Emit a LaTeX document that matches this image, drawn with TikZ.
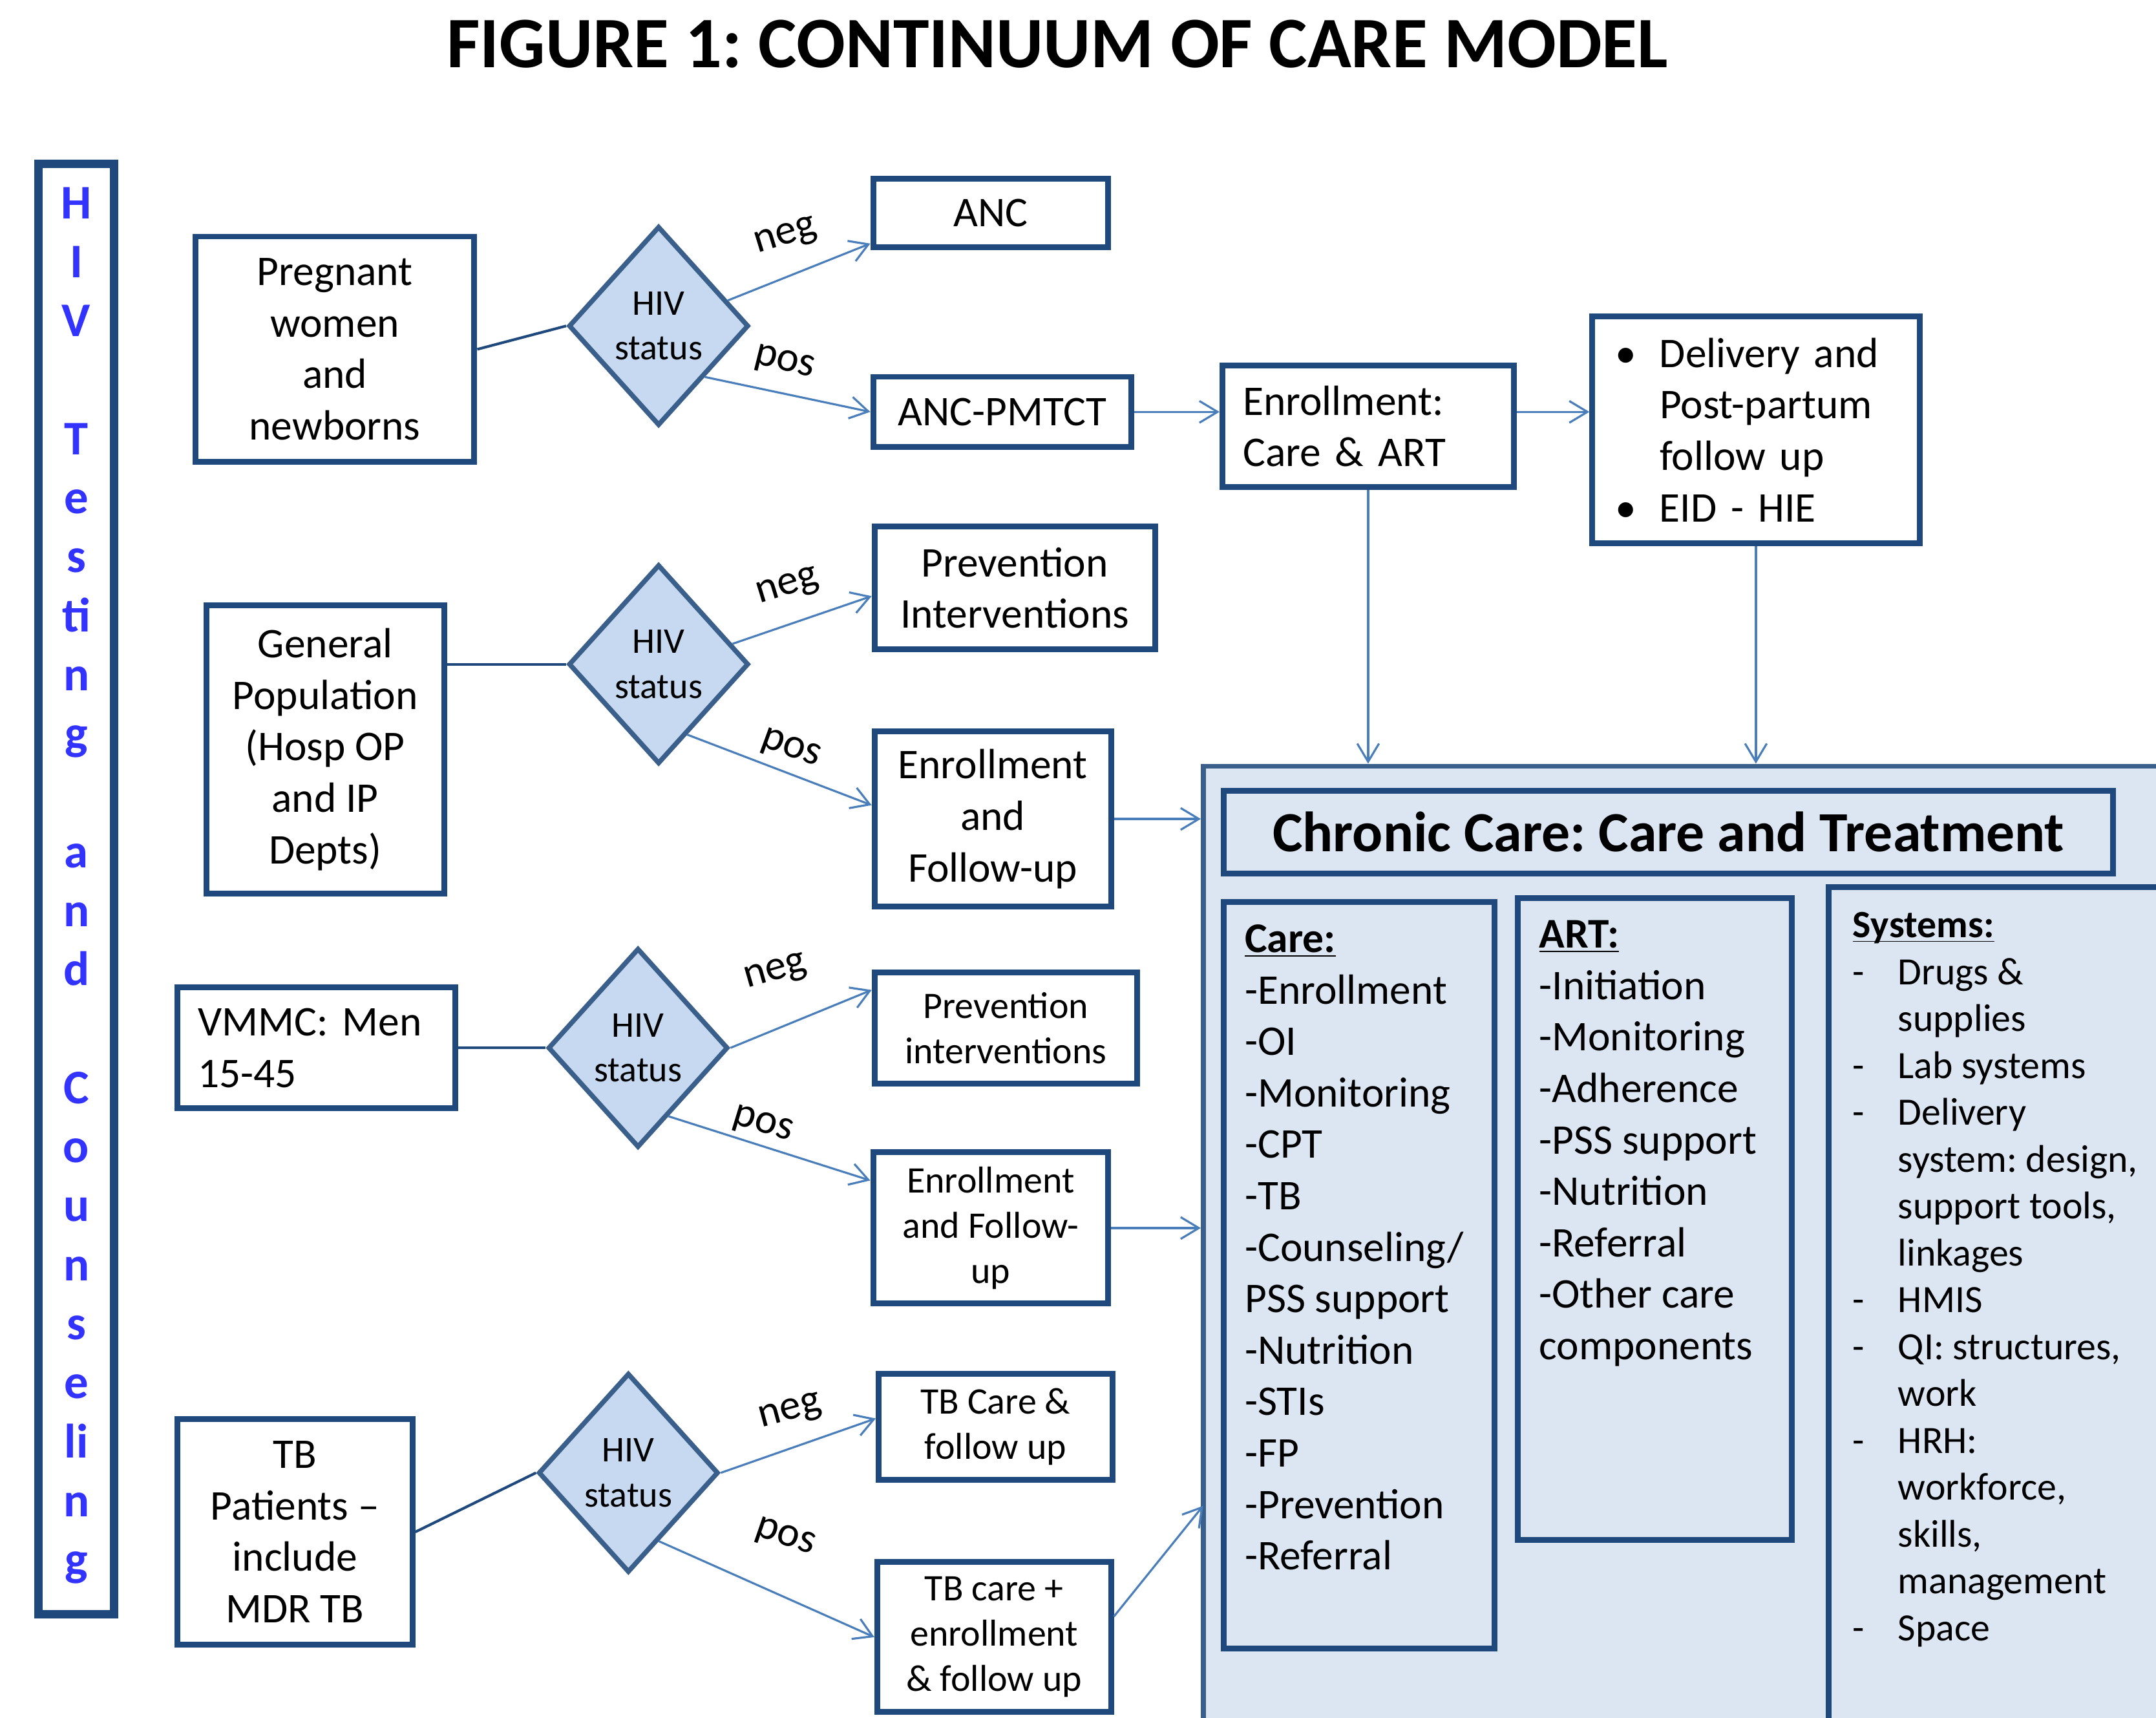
\documentclass[tikz,border=0pt]{standalone}
\usepackage{fontspec}
\setmainfont{Carlito}
\usetikzlibrary{shapes.geometric,arrows.meta,calc}
\definecolor{boxBlue}{HTML}{1F497D}
\definecolor{diaLine}{HTML}{3A5F8B}
\definecolor{diaFill}{HTML}{C6D9F1}
\definecolor{ccFill}{HTML}{DCE6F2}
\definecolor{arrowBlue}{HTML}{4A7EBB}
\definecolor{letterBlue}{HTML}{3333FF}
\newcommand{\dashitem}{\makebox[0.66cm][l]{-}}
\newcommand{\contline}{\hspace*{0.66cm}}
\newcommand{\bulitem}{\makebox[0.58cm][l]{\hspace*{-0.06cm}\textbullet}}
\newcommand{\bulcont}{\hspace*{0.58cm}}
\frenchspacing

\begin{document}
\begin{tikzpicture}[
    x=0.02cm, y=-0.02cm,
    font=\fontsize{17.5}{21.3}\selectfont,
    box/.style={draw=boxBlue, line width=2.4pt, fill=white, inner sep=0pt, align=center},
    lbox/.style={box, align=left, inner xsep=0.3cm},
    small/.style={font=\fontsize{15.5}{18.7}\selectfont},
    decision/.style={draw=diaLine, line width=2pt, fill=diaFill, diamond, inner sep=0pt,
        minimum width=2.62cm, minimum height=2.9cm, align=center, font=\fontsize{15}{18.7}\selectfont},
    link/.style={draw=boxBlue, line width=1.1pt},
    arrow/.style={draw=arrowBlue, line width=0.85pt, -{Straight Barb[length=7.5pt,width=9pt]}},
    lbl/.style={inner sep=0pt},
    listtxt/.style={anchor=north west, align=left, inner sep=0pt, font=\fontsize{17.5}{21.3}\selectfont}
]
    \useasboundingbox (0,0) rectangle (1568,1249);
    \fill[white] (0,0) rectangle (1568,1249);
    \clip (0,0) rectangle (1568,1249);

    \node[font=\fontsize{30}{36}\selectfont\bfseries] (title) at (769,32) {FIGURE 1: CONTINUUM OF CARE MODEL};

    % HIV testing column
    \node[draw=boxBlue, line width=3.4pt, minimum width=1.10cm, minimum height=21.10cm, inner sep=0pt] (hivbox) at (55.5,646.5) {};
    \foreach \ch [count=\i from 0] in {H,I,V,{},T,e,s,ti,n,g,{},a,n,d,{},C,o,u,n,s,e,li,n,g}
        \node[anchor=base, inner sep=0pt, text=letterBlue, font=\fontsize{20}{24}\selectfont\bfseries] (ltr\i) at (55.5,{159+42.9*\i}) {\ch};

    % pregnant women
    \node[box, minimum width=4.06cm, minimum height=3.28cm] (preg) at (243.5,254) {Pregnant\\women\\and\\newborns};
    \node[decision] (d1) at (479,237) {HIV\\status};
    \node[box, minimum width=3.42cm, minimum height=1.00cm] (anc) at (720.5,155) {ANC};
    \node[box, minimum width=3.76cm, minimum height=1.02cm] (pmtct) at (729,299.5) {ANC-PMTCT};
    \node[lbox, text width=3.64cm, minimum height=1.76cm] (enr1) at (995,310) {Enrollment:\\Care \& ART};
    \node[lbox, inner xsep=0.4cm, text width=3.96cm, minimum height=3.30cm] (deliv) at (1277,312.5)
        {\bulitem Delivery and\\\bulcont Post-partum\\\bulcont follow up\\\bulitem EID - HIE};

    % general population
    \node[box, minimum width=3.46cm, minimum height=4.20cm] (gen) at (236.5,545) {General\\Population\\(Hosp OP\\and IP\\Depts)};
    \node[decision] (d2) at (479,483) {HIV\\status};
    \node[box, minimum width=4.08cm, minimum height=1.78cm] (prev1) at (738,427.5) {Prevention\\Interventions};
    \node[box, minimum width=3.44cm, minimum height=2.54cm] (enrf1) at (722,595.5) {Enrollment\\and\\Follow-up};

    % VMMC
    \node[lbox, text width=3.44cm, minimum height=1.76cm] (vmmc) at (230,762) {VMMC: Men\\15-45};
    \node[decision] (d3) at (464,762) {HIV\\status};
    \node[box, small, minimum width=3.82cm, minimum height=1.62cm] (prev2) at (731.5,747.5) {Prevention\\interventions};
    \node[box, small, minimum width=3.42cm, minimum height=2.20cm] (enrf2) at (720.5,893) {Enrollment\\and Follow-\\up};

    % TB patients
    \node[box, minimum width=3.42cm, minimum height=3.28cm] (tbp) at (214.5,1114) {TB\\Patients --\\include\\MDR TB};
    \node[decision] (d4) at (457,1071) {HIV\\status};
    \node[box, small, minimum width=3.40cm, minimum height=1.54cm] (tbc) at (724,1037.5) {TB Care \&\\follow up};
    \node[box, small, minimum width=3.40cm, minimum height=2.18cm] (tbe) at (723,1190.5) {TB care +\\enrollment\\\& follow up};

    % chronic care
    \node[draw=diaLine, line width=2pt, fill=ccFill, minimum width=15.5cm, minimum height=14.86cm, inner sep=0pt] (chronic) at (1262.5,928.5) {};
    \node[box, fill=ccFill, minimum width=12.94cm, minimum height=1.20cm, font=\fontsize{23.5}{28}\selectfont\bfseries] (cctitle) at (1213.5,605) {Chronic Care: Care and Treatment};
    \node[box, fill=ccFill, minimum width=3.94cm, minimum height=10.86cm] (care) at (988.5,927.5) {};
    \node[box, fill=ccFill, minimum width=3.98cm, minimum height=9.34cm] (art) at (1203.5,886.5) {};
    \node[box, fill=ccFill, minimum width=6.4cm, minimum height=13.1cm] (sys) at (1490,972.5) {};

    \node[listtxt] (caretxt) at (905,672) {\textbf{\underline{Care:}}\\-Enrollment\\-OI\\-Monitoring\\-CPT\\-TB\\-Counseling/\\PSS support\\-Nutrition\\-STIs\\-FP\\-Prevention\\-Referral};
    \node[listtxt] (arttxt) at (1119,669) {\textbf{\underline{ART:}}\\-Initiation\\-Monitoring\\-Adherence\\-PSS support\\-Nutrition\\-Referral\\-Other care\\components};
    \node[listtxt, font=\fontsize{16}{19.4}\selectfont] (systxt) at (1347,663)
        {\textbf{\underline{S\smash{y}stems:}}\\\dashitem Drugs \&\\\contline supplies\\\dashitem Lab systems\\\dashitem Delivery\\\contline system: design,\\\contline support tools,\\\contline linkages\\\dashitem HMIS\\\dashitem QI: structures,\\\contline work\\\dashitem HRH:\\\contline workforce,\\\contline skills,\\\contline management\\\dashitem Space};

    % connectors
    \draw[link] (preg.east) -- (d1.west);
    \draw[link] (gen.east |- d2.west) -- (d2.west);
    \draw[link] (vmmc.east) -- (d3.west);
    \draw[link] (tbp.east) -- (d4.west);

    \draw[arrow] ($(d1.east)!0.25!(d1.north)$) -- node[lbl, pos=0.41, yshift=0.58cm, rotate=17] (neg1) {neg} ([yshift=0.1cm]anc.south west);
    \draw[arrow] (d1.south east) -- node[lbl, pos=0.48, yshift=0.44cm, rotate=-14] (pos1) {pos} (pmtct.west);
    \draw[arrow] ($(d2.east)!0.2!(d2.north)$) -- node[lbl, pos=0.4, yshift=0.54cm, rotate=17] (neg2) {neg} ([yshift=-0.12cm]prev1.west);
    \draw[arrow] ($(d2.south)!0.31!(d2.east)$) -- node[lbl, pos=0.56, yshift=0.36cm, rotate=-20] (pos2) {pos} ([yshift=0.2cm]enrf1.west);
    \draw[arrow] (d3.east) -- node[lbl, pos=0.32, yshift=0.82cm, rotate=16] (neg3) {neg} ([yshift=-0.3cm]prev2.north west);
    \draw[arrow] ($(d3.south)!0.33!(d3.east)$) -- node[lbl, pos=0.465, yshift=0.3cm, rotate=-17] (pos3) {pos} ([yshift=-0.45cm]enrf2.north west);
    \draw[arrow] (d4.east) -- node[lbl, pos=0.45, yshift=0.52cm, rotate=15] (neg4) {neg} ([yshift=0.12cm]tbc.west);
    \draw[arrow] ($(d4.south)!0.33!(d4.east)$) -- node[lbl, pos=0.584, yshift=0.86cm, rotate=-19] (pos4) {pos} (tbe.west);

    \draw[arrow] (pmtct.east) -- (pmtct.east -| enr1.west);
    \draw[arrow] (enr1.east |- pmtct.east) -- (deliv.west |- pmtct.east);
    \draw[arrow] (enr1.south) -- (enr1.south |- chronic.north);
    \draw[arrow] (deliv.south) -- (deliv.south |- chronic.north);
    \draw[arrow] (enrf1.east) -- (enrf1.east -| chronic.west);
    \draw[arrow] (enrf2.east) -- (enrf2.east -| chronic.west);
    \coordinate (tbIn) at (875,1095);
    \draw[arrow] ([yshift=0.3cm]tbe.east) -- (tbIn);
\end{tikzpicture}
\end{document}
